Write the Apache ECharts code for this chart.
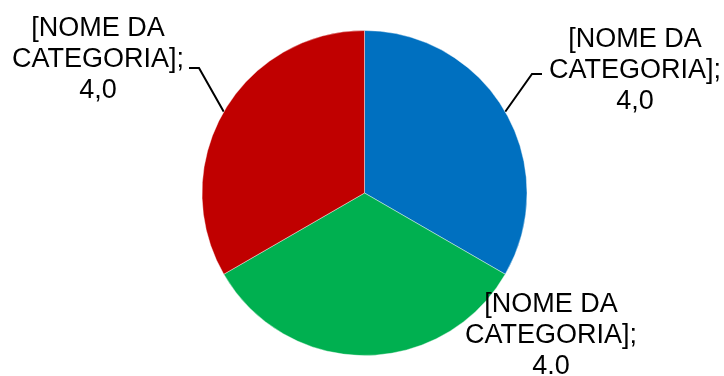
<!DOCTYPE html>
<html>
<head>
<meta charset="utf-8">
<script src="https://cdn.jsdelivr.net/npm/echarts@6/dist/echarts.min.js"></script>
<style>
  html, body { margin: 0; padding: 0; background: #fff; }
  #chart { width: 724px; height: 376px; }
</style>
</head>
<body>
<div id="chart"></div>
<script>
// Pie data: three categories of equal weight
const categories = ['[NOME DA\nCATEGORIA]', '[NOME DA\nCATEGORIA]', '[NOME DA\nCATEGORIA]'];
const values = [4.0, 4.0, 4.0];
const decimalSeparators = [',', '.', ','];
const colors = ['#0070C0', '#00B050', '#C00000'];

// Label placement: block centre (x, y of middle line), leader side and offsets
const labelPlacement = [
  { x: 635, y: 71, side: 'left', lineDy: 3, gap: 7, showLine: true },
  { x: 551, y: 336, side: 'none', lineDy: 0, gap: 0, showLine: false },
  { x: 98, y: 60, side: 'right', lineDy: 8, gap: 5, showLine: true }
];

const chart = echarts.init(document.getElementById('chart'), null, { renderer: 'canvas' });

const data = values.map((v, i) => ({
  name: categories[i],
  value: v,
  itemStyle: { color: colors[i] },
  labelLine: { show: labelPlacement[i].showLine }
}));

chart.setOption({
  animation: false,
  backgroundColor: '#ffffff',
  series: [{
    type: 'pie',
    center: [364.5, 193],
    radius: 162.5,
    startAngle: 90,
    clockwise: true,
    data: data,
    itemStyle: { borderColor: '#ffffff', borderWidth: 0.4 },
    emphasis: { disabled: true },
    label: {
      show: true,
      position: 'outside',
      fontFamily: 'Liberation Sans, Arial, sans-serif',
      fontSize: 27,
      lineHeight: 31,
      color: '#000000',
      formatter: (p) => {
        const txt = p.value.toFixed(1).replace('.', decimalSeparators[p.dataIndex]);
        return p.name + ';\n' + txt;
      }
    },
    labelLine: {
      show: true,
      length: 10,
      length2: 10,
      smooth: false,
      lineStyle: { color: '#000000', width: 2 }
    },
    labelLayout: (params) => {
      const cfg = labelPlacement[params.dataIndex];
      const out = { x: cfg.x, y: cfg.y, align: 'center', verticalAlign: 'middle' };
      const w = params.labelRect.width;
      const pts = params.labelLinePoints;
      if (cfg.showLine && pts && pts.length) {
        const start = pts[0];
        let endX, bendX;
        if (cfg.side === 'right') {
          endX = cfg.x + w / 2 + cfg.gap;
          bendX = endX + 10;
        } else {
          endX = cfg.x - w / 2 - cfg.gap;
          bendX = endX - 10;
        }
        const ly = cfg.y + cfg.lineDy;
        out.labelLinePoints = [[start[0], start[1]], [bendX, ly], [endX, ly]];
      }
      return out;
    }
  }]
});
</script>
</body>
</html>
